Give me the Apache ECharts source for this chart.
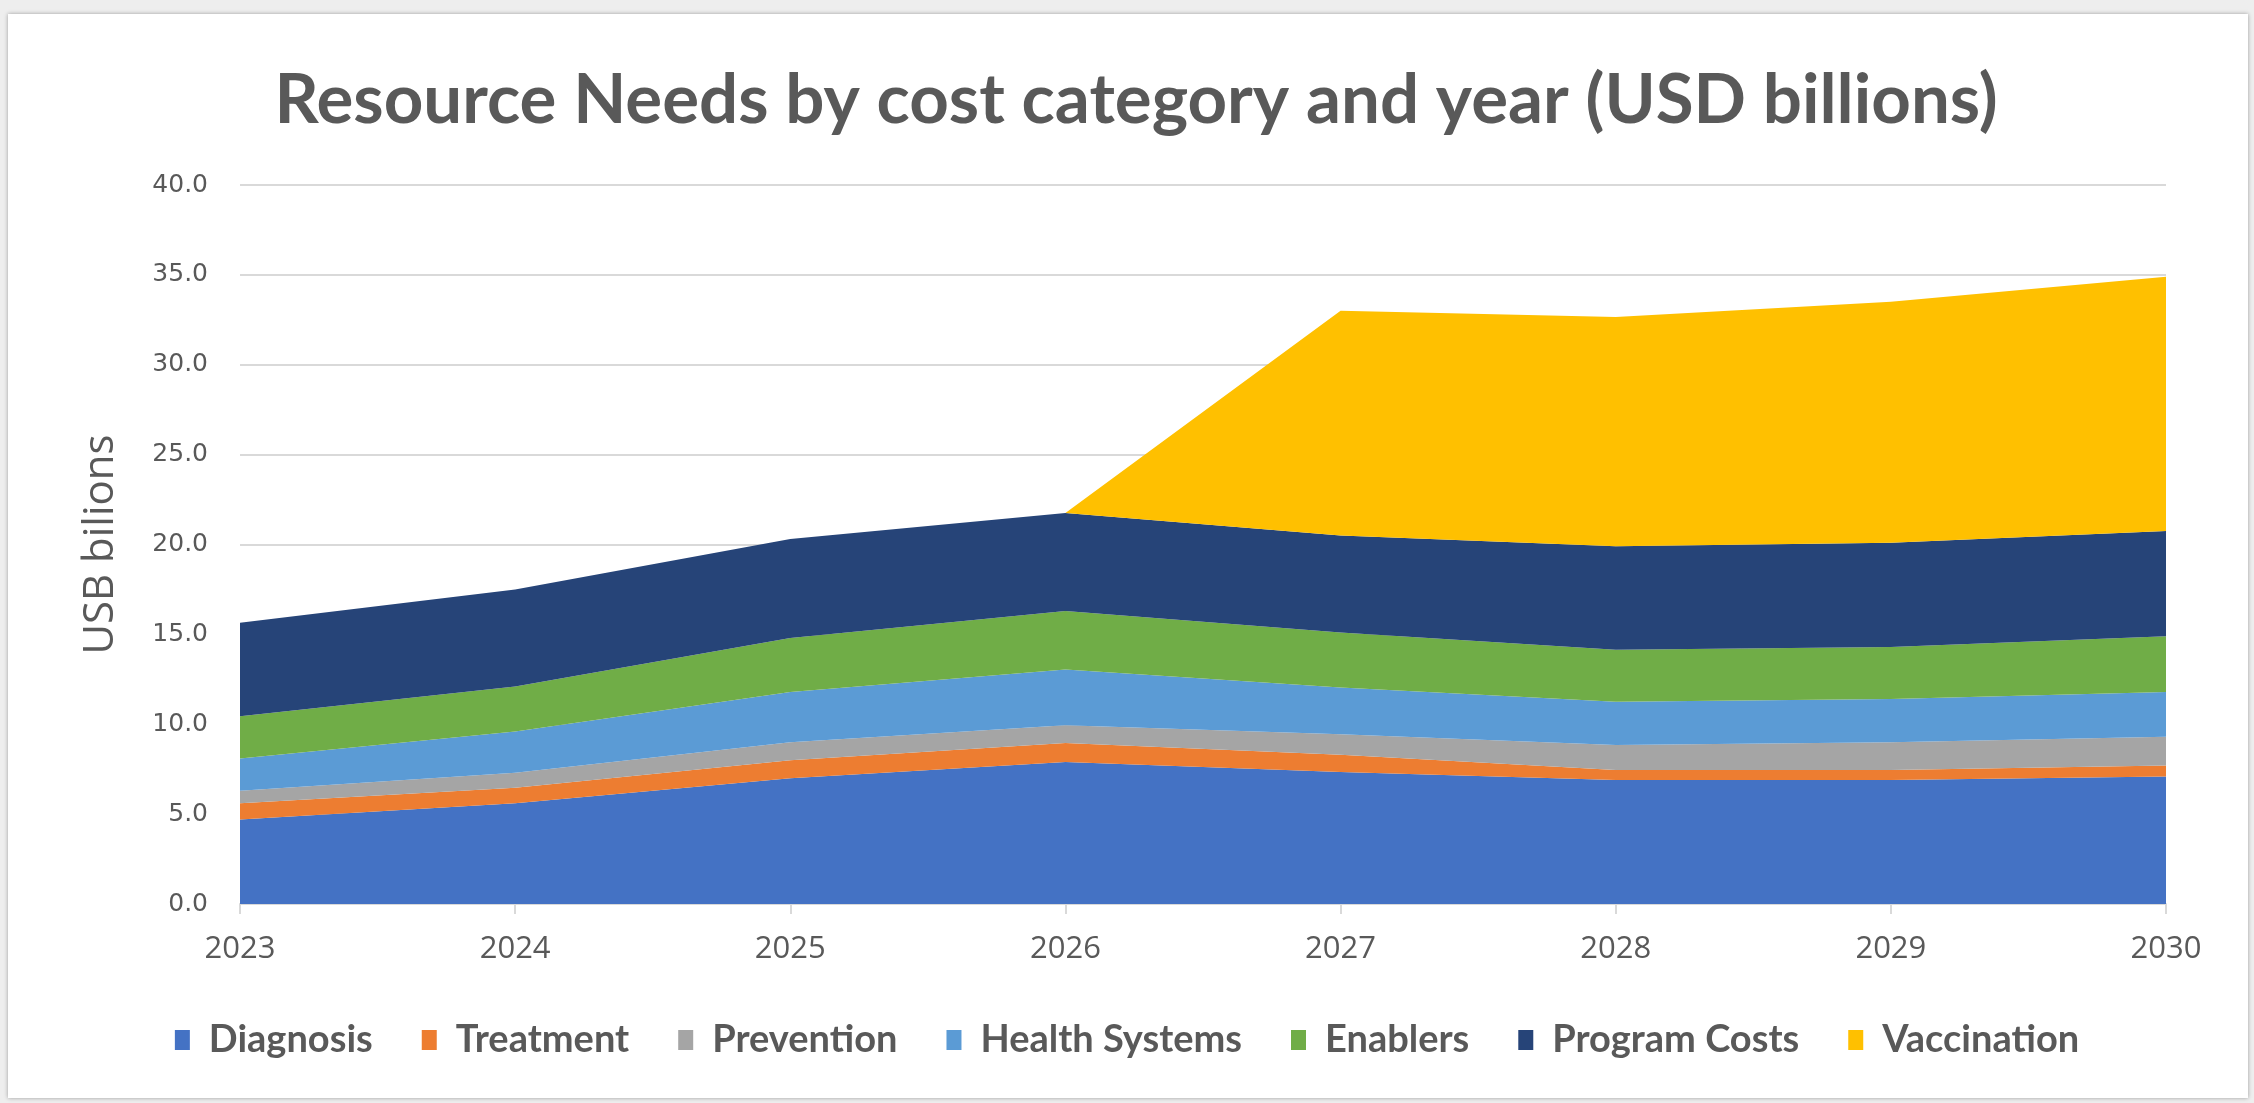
<!DOCTYPE html>
<html>
<head>
<meta charset="utf-8">
<script src="https://cdn.jsdelivr.net/npm/echarts@6/dist/echarts.min.js"></script>
<style>
  html, body { margin: 0; padding: 0; width: 2254px; height: 1103px; background: #eeeeee; overflow: hidden; }
  #card { position: absolute; left: 8px; top: 14px; width: 2240px; height: 1084px; background: #ffffff; box-shadow: 0 0 4px rgba(0,0,0,0.35); }
  #chart { position: absolute; left: 0; top: 0; width: 2254px; height: 1103px; }
</style>
</head>
<body>
<div id="card"></div>
<div id="chart"></div>
<script>
const years = ['2023', '2024', '2025', '2026', '2027', '2028', '2029', '2030'];
const diagnosis     = [4.7, 5.6, 7.0, 7.9, 7.35, 6.9, 6.9, 7.1];
const treatment     = [0.9, 0.87, 1.0, 1.05, 0.95, 0.55, 0.55, 0.6];
const prevention    = [0.7, 0.83, 1.0, 1.0, 1.15, 1.4, 1.55, 1.6];
const healthSystems = [1.8, 2.3, 2.8, 3.1, 2.6, 2.4, 2.4, 2.5];
const enablers      = [2.35, 2.5, 3.0, 3.25, 3.05, 2.9, 2.9, 3.1];
const programCosts  = [5.2, 5.4, 5.5, 5.45, 5.4, 5.75, 5.8, 5.85];
const vaccination   = [0, 0, 0, 0, 12.5, 12.75, 13.4, 14.15];
const seriesNames = ['Diagnosis', 'Treatment', 'Prevention', 'Health Systems', 'Enablers', 'Program Costs', 'Vaccination'];
const seriesData = [diagnosis, treatment, prevention, healthSystems, enablers, programCosts, vaccination];
const colors = ['#4472C4', '#ED7D31', '#A5A5A5', '#5B9BD5', '#70AD47', '#264478', '#FFC000'];

const chart = echarts.init(document.getElementById('chart'), null, { renderer: 'canvas' });
chart.setOption({
  animation: false,
  backgroundColor: 'transparent',
  color: colors,
  title: {
    text: 'Resource Needs by cost category and year (USD billions)',
    left: 1131, top: 96, textAlign: 'center', textVerticalAlign: 'middle',
    textStyle: { fontFamily: 'Lato', fontWeight: 'bold', fontSize: 69, color: '#595959' }
  },
  legend: {
    data: seriesNames,
    left: 'center', top: 1016,
    icon: 'rect', itemWidth: 15, itemHeight: 20, itemGap: 49,
    textStyle: { fontFamily: 'Lato', fontWeight: 'bold', fontSize: 38, color: '#595959', padding: [0, 0, 0, 14] }
  },
  grid: { left: 240, right: 88, top: 185, bottom: 199 },
  xAxis: {
    type: 'category', data: years, boundaryGap: false,
    axisLine: { lineStyle: { color: '#d9d9d9', width: 2 } },
    axisTick: { show: true, length: 10, lineStyle: { color: '#d9d9d9', width: 2 } },
    axisLabel: { fontFamily: 'Open Sans', fontSize: 31, color: '#595959', margin: 30 },
    splitLine: { show: false }
  },
  yAxis: {
    type: 'value', min: 0, max: 40, interval: 5,
    name: 'USB bilions', nameLocation: 'middle', nameGap: 118, nameRotate: 90,
    nameTextStyle: { fontFamily: 'Open Sans', fontSize: 42, color: '#595959' },
    axisLine: { show: false }, axisTick: { show: false },
    axisLabel: { fontFamily: 'DejaVu Sans', fontSize: 25, color: '#595959', margin: 32,
      formatter: v => v.toFixed(1) },
    splitLine: { lineStyle: { color: '#d9d9d9', width: 2 } }
  },
  series: seriesNames.map((n, i) => ({
    name: n, type: 'line', stack: 'total', data: seriesData[i],
    symbol: 'none', lineStyle: { width: 0 }, areaStyle: { opacity: 1, color: colors[i] },
    itemStyle: { color: colors[i] }
  }))
});
</script>
</body>
</html>
